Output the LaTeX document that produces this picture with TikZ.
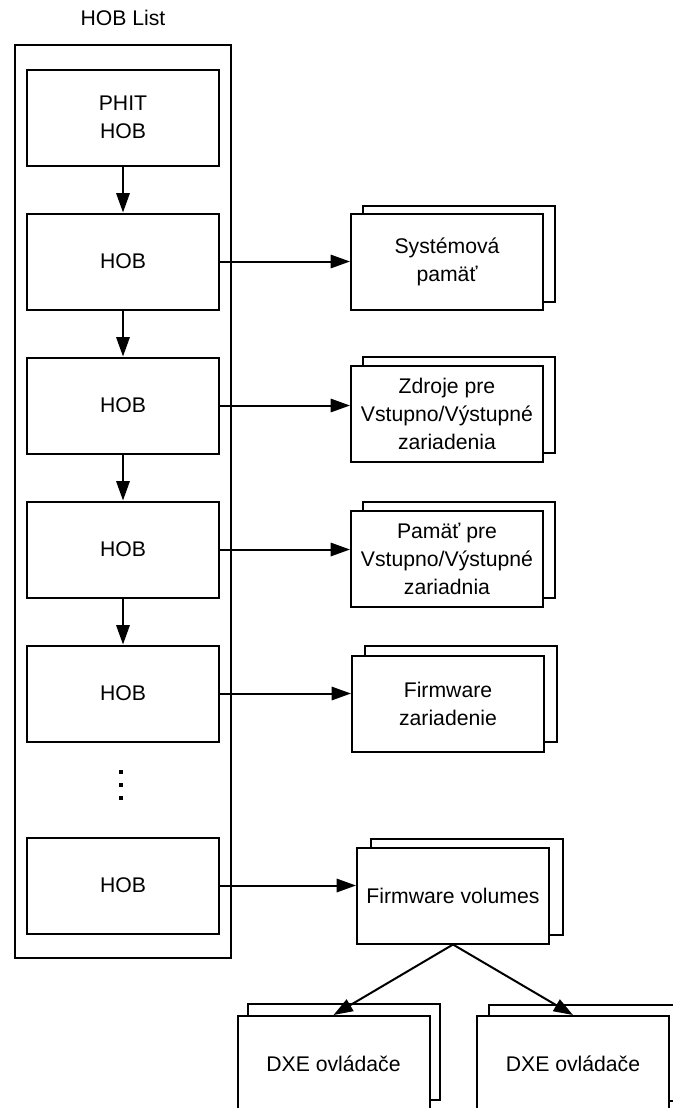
\documentclass[tikz,border=0pt]{standalone}
\usepackage{fontspec}
\setmainfont{Liberation Sans}
\usetikzlibrary{arrows.meta}

\begin{document}
\begin{tikzpicture}[x=0.75pt, y=-0.75pt,
    every node/.style={font=\fontsize{15.9}{21}\selectfont},
    box/.style={draw, line width=1.5pt, fill=white, minimum width=144pt, minimum height=72pt, align=center, inner sep=1pt},
    arr/.style={line width=1.5pt, -{Triangle[length=14.5pt, width=10pt]}}]
    \useasboundingbox (0,0) rectangle (672,1108);

    \node (title) at (123,18) {HOB List};
    \node[draw, line width=1.5pt, minimum width=162pt, minimum height=684.75pt] (list) at (123,501.5) {};

    \node[box] (phit) at (123,117.5) {PHIT\\HOB};
    \node[box] (hob1) at (123,261.5) {HOB};
    \node[box] (hob2) at (123,405.5) {HOB};
    \node[box] (hob3) at (123,549.5) {HOB};
    \node[box] (hob4) at (123,693.5) {HOB};
    \node[box] (hob5) at (123,885.5) {HOB};
    \fill (119,770) rectangle (123,774);
    \fill (119,783) rectangle (123,787);
    \fill (119,796) rectangle (123,800);

    \draw[arr] (phit) -- (hob1);
    \draw[arr] (hob1) -- (hob2);
    \draw[arr] (hob2) -- (hob3);
    \draw[arr] (hob3) -- (hob4);

    % stacked boxes on the right
    \node[box] (mem1b) at (459,253.5) {};
    \node[box] (mem1) at (447,262) {Systémová\\pamäť};
    \node[box] (io1b) at (459,405) {};
    \node[box] (io1) at (447,413.5) {Zdroje pre\\Vstupno/Výstupné\\zariadenia};
    \node[box] (io2b) at (459,550) {};
    \node[box] (io2) at (447,558.5) {Pamäť pre\\Vstupno/Výstupné\\zariadnia};
    \node[box] (fwb) at (461,694) {};
    \node[box] (fw) at (448,704) {Firmware\\zariadenie};
    \node[box] (volb) at (466.5,886.5) {};
    \node[box] (vol) at (453,895.5) {Firmware volumes};

    \draw[arr] (hob1) -- (hob1 -| mem1.west);
    \draw[arr] (hob2) -- (hob2 -| io1.west);
    \draw[arr] (hob3) -- (hob3 -| io2.west);
    \draw[arr] (hob4) -- (hob4 -| fw.west);
    \draw[arr] (hob5) -- (hob5 -| vol.west);

    \node[box] (dxe1b) at (343.5,1052) {};
    \node[box] (dxe1) at (333.5,1064) {DXE ovládače};
    \node[box] (dxe2b) at (585,1053) {};
    \node[box] (dxe2) at (573,1064) {DXE ovládače};

    \draw[arr] (vol.south) -- (dxe1.north);
    \draw[arr] (vol.south) -- (dxe2.north);
\end{tikzpicture}
\end{document}
